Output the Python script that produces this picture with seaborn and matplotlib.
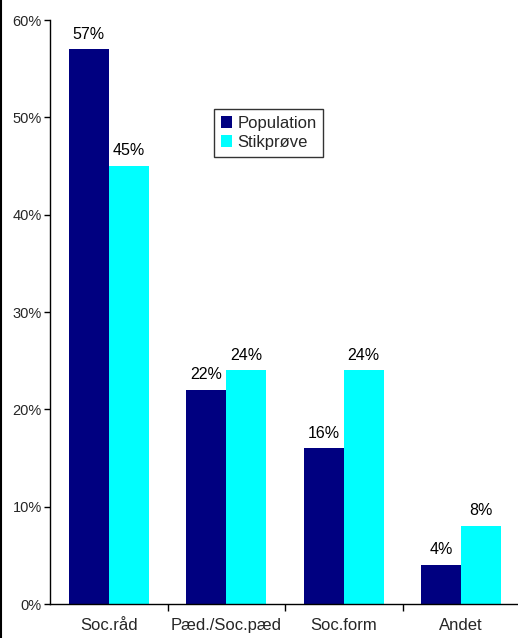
import matplotlib
matplotlib.use("Agg")
import matplotlib.pyplot as plt
import seaborn as sns
import pandas as pd
from matplotlib.lines import Line2D
from matplotlib.ticker import FuncFormatter

categories = ["Soc.råd", "Pæd./Soc.pæd", "Soc.form", "Andet"]
population = [57, 22, 16, 4]
stikproeve = [45, 24, 24, 8]
series_names = ["Population", "Stikprøve"]
yticks = [0, 10, 20, 30, 40, 50, 60]

df = pd.DataFrame({
    "Kategori": categories * 2,
    "Andel": population + stikproeve,
    "Serie": [series_names[0]] * 4 + [series_names[1]] * 4,
})

sns.set_style("white")
plt.rcParams["font.family"] = ["Liberation Sans", "DejaVu Sans"]

fig = plt.figure(figsize=(5.18, 6.38), dpi=100)
ax = fig.add_axes([50 / 518, 1 - 604 / 638, 470 / 518, 584 / 638])

sns.barplot(data=df, x="Kategori", y="Andel", hue="Serie", order=categories,
            hue_order=series_names, palette=["#000080", "#00FFFF"],
            width=0.68, saturation=1, ax=ax, linewidth=0, errorbar=None)

for cont in ax.containers:
    ax.bar_label(cont, labels=[f"{v:g}%" for v in cont.datavalues],
                 padding=5.5, fontsize=11.5, color="black")

ax.set_xlim(-0.5, 3.5)
ax.set_ylim(0, 60)
ax.set_yticks(yticks)
ax.yaxis.set_major_formatter(FuncFormatter(lambda v, p: f"{v:.0f}%"))
ax.tick_params(axis="y", which="major", direction="out", length=4, width=1,
               color="black", labelsize=10.5, pad=2, left=True)
ax.set_xticks(range(len(categories)))
ax.set_xticklabels(categories)
ax.tick_params(axis="x", which="major", length=0, labelsize=12, pad=10)
ax.set_xticks([0.5, 1.5, 2.5], minor=True)
ax.tick_params(axis="x", which="minor", direction="out", length=5, width=1,
               color="black", bottom=True)
ax.set_xlabel("")
ax.set_ylabel("")
for s in ["top", "right"]:
    ax.spines[s].set_visible(False)
for s in ["left", "bottom"]:
    ax.spines[s].set_color("black")
    ax.spines[s].set_linewidth(1)

leg = ax.legend(loc="upper left", bbox_to_anchor=((214 - 50) / 470, (604 - 109) / 584),
                borderaxespad=0, frameon=True, fancybox=False, fontsize=12,
                handlelength=0.7, handleheight=0.7, handletextpad=0.3,
                labelspacing=0.25, borderpad=0.4)
leg.get_frame().set_edgecolor("black")
leg.get_frame().set_linewidth(1)
leg.set_title(None)

fig.add_artist(Line2D([0.001, 0.001], [0, 1], transform=fig.transFigure,
                      color="black", linewidth=1.5))

fig.savefig("out.png", dpi=100)
